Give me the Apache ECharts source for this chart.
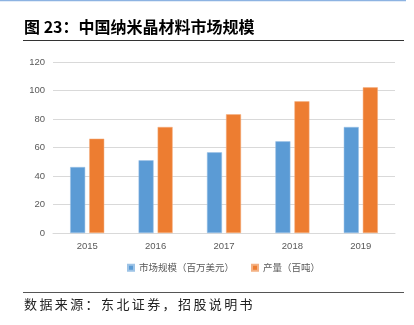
<!DOCTYPE html>
<html><head><meta charset="utf-8">
<script src="https://cdn.jsdelivr.net/npm/echarts@6/dist/echarts.min.js"></script>
<style>html,body{margin:0;padding:0;background:#fff}#c{width:414px;height:325px}</style>
</head><body><div id="c"></div>
<script>
var categories = ['2015','2016','2017','2018','2019'];
var marketSize = [46.3, 51, 56.6, 64.3, 74.4];
var output = [66.2, 74.4, 83.3, 92.4, 102.2];
var yTicks = [0, 20, 40, 60, 80, 100, 120];
var seriesNames = ['市场规模（百万美元）', '产量（百吨）'];
var titleText = '图 23：中国纳米晶材料市场规模';
var sourceText = '数据来源：东北证券，招股说明书';

var chart = echarts.init(document.getElementById('c'), null, {renderer:'canvas'});
var cjk = '"Noto Sans CJK SC", sans-serif';
var graphics = [
  {type:'line', shape:{x1:0,y1:0.5,x2:406,y2:0.5}, style:{stroke:'#8db3e2', lineWidth:1.5}},
  {type:'text', left:24, top:19, style:{text:titleText, font:'bold 16px "Noto Sans CJK SC", sans-serif', fill:'#000'}},
  {type:'line', shape:{x1:23,y1:40.5,x2:404,y2:40.5}, style:{stroke:'#333', lineWidth:1}},
  {type:'line', shape:{x1:23,y1:292.5,x2:404,y2:292.5}, style:{stroke:'#555', lineWidth:1}}
];
var srcChars = Array.from(sourceText);
srcChars.forEach(function(ch, i){
  graphics.push({type:'text', x: 24 + i*15.4, y: 298, style:{text: ch, font:'13px "Noto Sans CJK SC", sans-serif', fill:'#222'}});
});
chart.setOption({
  animation: false,
  textStyle: {fontFamily: cjk},
  graphic: graphics,
  legend: {
    data: seriesNames, top: 258, left: 122, itemWidth: 6, itemHeight: 6, itemGap: 17,
    icon: 'rect',
    textStyle: {color:'#595959', fontSize: 9.5, fontFamily: cjk}
  },
  grid: {left: 53, right: 19, top: 62, bottom: 92, containLabel: false},
  xAxis: {
    type: 'category', data: categories,
    axisLine: {lineStyle:{color:'#d9d9d9'}},
    axisTick: {show:false},
    axisLabel: {color:'#595959', fontSize: 9.5, margin: 8, fontFamily: 'Liberation Sans, sans-serif'}
  },
  yAxis: {
    type: 'value', min: yTicks[0], max: yTicks[yTicks.length-1], interval: 20,
    axisLine: {show:false}, axisTick: {show:false},
    axisLabel: {color:'#595959', fontSize: 9.5, margin: 8, fontFamily: 'Liberation Sans, sans-serif'},
    splitLine: {lineStyle:{color:'#d9d9d9', width:1}}
  },
  series: [
    {name: seriesNames[0], type:'bar', data: marketSize, barWidth: 15, barGap: '27%',
     itemStyle:{color:'#5b9bd5', borderColor:'#9dc3e6', borderWidth:0.5}},
    {name: seriesNames[1], type:'bar', data: output, barWidth: 15,
     itemStyle:{color:'#ed7d31', borderColor:'#f4b183', borderWidth:0.5}}
  ]
});
</script></body></html>
